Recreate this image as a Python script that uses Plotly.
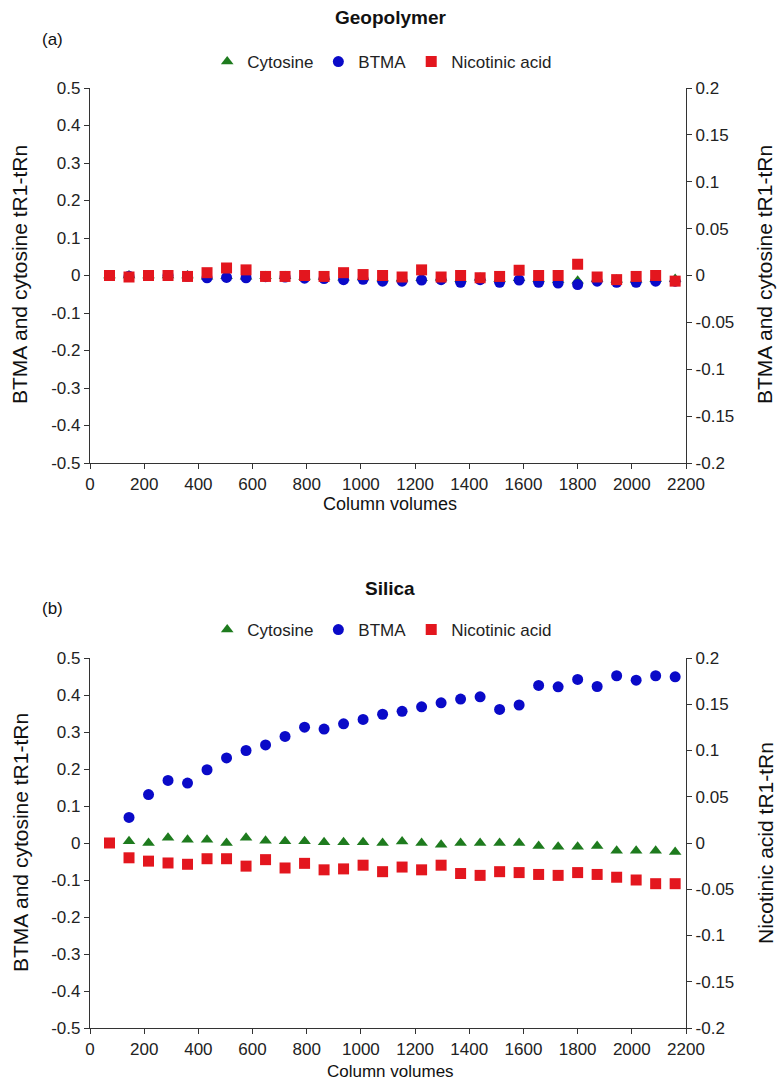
import plotly.graph_objects as go

# ---------------- data ----------------
column_volumes = [72, 144, 216, 288, 360, 432, 504, 576, 648, 720,
                  792, 864, 936, 1008, 1080, 1152, 1224, 1296, 1368, 1440,
                  1512, 1584, 1656, 1728, 1800, 1872, 1944, 2016, 2088, 2160]

# (a) Geopolymer
geo_cytosine = [0, 0, 0, 0, 0, -0.003, -0.002, -0.003, -0.002, -0.002,
                -0.004, -0.004, -0.006, -0.005, -0.008, -0.008, -0.007, -0.006, -0.010, -0.006,
                -0.010, -0.007, -0.010, -0.012, -0.014, -0.009, -0.011, -0.011, -0.009, -0.009]
geo_btma = [0, -0.002, 0, 0, -0.002, -0.006, -0.005, -0.006, -0.003, -0.004,
            -0.007, -0.008, -0.011, -0.010, -0.015, -0.015, -0.012, -0.011, -0.018, -0.011,
            -0.018, -0.012, -0.018, -0.020, -0.024, -0.015, -0.018, -0.018, -0.015, -0.015]
geo_nicotinic = [0, -0.0016, 0, 0, -0.001, 0.003, 0.008, 0.006, -0.001, -0.001,
                 0, -0.001, 0.003, 0.001, 0, -0.0016, 0.006, -0.0016, 0, -0.0024,
                 -0.001, 0.0056, 0, 0, 0.012, -0.0016, -0.0044, -0.001, 0, -0.006]

# (b) Silica
sil_cytosine = [None, 0.005, 0, 0.014, 0.009, 0.009, 0, 0.014, 0.006, 0.005,
                0.005, 0.002, 0.002, 0.002, 0, 0.004, 0, -0.005, 0, 0,
                0, 0, -0.008, -0.010, -0.010, -0.008, -0.021, -0.021, -0.021, -0.024]
sil_btma = [None, 0.069, 0.131, 0.169, 0.162, 0.198, 0.230, 0.250, 0.265, 0.288,
            0.313, 0.308, 0.322, 0.334, 0.348, 0.356, 0.368, 0.379, 0.389, 0.395,
            0.361, 0.373, 0.426, 0.422, 0.442, 0.423, 0.452, 0.440, 0.452, 0.449]
sil_nicotinic = [0, -0.016, -0.0196, -0.0216, -0.023, -0.017, -0.017, -0.025, -0.018, -0.027,
                 -0.022, -0.029, -0.028, -0.024, -0.031, -0.026, -0.029, -0.024, -0.033, -0.035,
                 -0.031, -0.032, -0.034, -0.035, -0.032, -0.034, -0.037, -0.040, -0.044, -0.044]

left_ticks = [0.5, 0.4, 0.3, 0.2, 0.1, 0, -0.1, -0.2, -0.3, -0.4, -0.5]
left_labels = ["0.5", "0.4", "0.3", "0.2", "0.1", "0", "-0.1", "-0.2", "-0.3", "-0.4", "-0.5"]
right_ticks = [0.2, 0.15, 0.1, 0.05, 0, -0.05, -0.1, -0.15, -0.2]
right_labels = ["0.2", "0.15", "0.1", "0.05", "0", "-0.05", "-0.1", "-0.15", "-0.2"]
x_ticks = list(range(0, 2201, 200))

series_names = ["Cytosine", "BTMA", "Nicotinic acid"]
GREEN, BLUE, RED = "#1E7B1E", "#0A0AC8", "#E3161E"

FONT = "Liberation Sans, Arial, sans-serif"
W, H = 780, 1084

fig = go.Figure()

def add_panel(cyt, btma, nic, xa, ya, ya2, legend):
    fig.add_trace(go.Scatter(x=column_volumes, y=cyt, mode="markers", name=series_names[0],
                             marker=dict(symbol="triangle-up", size=11, color=GREEN),
                             xaxis=xa, yaxis=ya, legend=legend))
    fig.add_trace(go.Scatter(x=column_volumes, y=btma, mode="markers", name=series_names[1],
                             marker=dict(symbol="circle", size=11, color=BLUE),
                             xaxis=xa, yaxis=ya, legend=legend))
    fig.add_trace(go.Scatter(x=column_volumes, y=nic, mode="markers", name=series_names[2],
                             marker=dict(symbol="square", size=11, color=RED),
                             xaxis=xa, yaxis=ya2, legend=legend))

add_panel(geo_cytosine, geo_btma, geo_nicotinic, "x", "y", "y2", "legend")
add_panel(sil_cytosine, sil_btma, sil_nicotinic, "x2", "y3", "y4", "legend2")

px = lambda v: v / W
py = lambda v: 1 - v / H

x_dom = [px(90), px(686)]
top_dom = [py(463), py(88)]
bot_dom = [py(1028), py(658)]

tickfont = dict(family=FONT, size=17, color="#222")
common_axis = dict(showline=True, linecolor="#333", linewidth=1.3, ticks="outside",
                   ticklen=5, tickcolor="#333", showgrid=False, zeroline=False,
                   tickfont=tickfont, automargin=False)

def xaxis(anchor):
    return dict(domain=x_dom, range=[0, 2200], tickvals=x_ticks, anchor=anchor, **common_axis)

def yleft(dom, anchor):
    return dict(domain=dom, range=[-0.5, 0.5], tickvals=left_ticks, ticktext=left_labels,
                anchor=anchor, side="left", **common_axis)

def yright(overlay, anchor):
    return dict(range=[-0.2, 0.2], tickvals=right_ticks, ticktext=right_labels,
                overlaying=overlay, anchor=anchor, side="right", **common_axis)

legend_common = dict(orientation="h", xanchor="center", yanchor="middle",
                     font=dict(family=FONT, size=17, color="#222"),
                     bgcolor="rgba(0,0,0,0)", itemwidth=30, tracegroupgap=0)

fig.update_layout(
    width=W, height=H,
    margin=dict(l=0, r=0, t=0, b=0),
    paper_bgcolor="white", plot_bgcolor="white",
    font=dict(family=FONT, size=17, color="#222"),
    xaxis=xaxis("y"),
    yaxis=yleft(top_dom, "x"),
    yaxis2=yright("y", "x"),
    xaxis2=xaxis("y3"),
    yaxis3=yleft(bot_dom, "x2"),
    yaxis4=yright("y3", "x2"),
    legend=dict(x=0.49, y=py(62), **legend_common),
    legend2=dict(x=0.49, y=py(630), **legend_common),
)

annots = [
    ("<b>Geopolymer</b>", 390, 18, 0, 19),
    ("(a)", 52, 40, 0, 17),
    ("Column volumes", 390, 504, 0, 18),
    ("BTMA and cytosine tR1-tRn", 20, 275, -90, 21),
    ("BTMA and cytosine tR1-tRn", 765, 275, -90, 21),
    ("<b>Silica</b>", 390, 588, 0, 19),
    ("(b)", 52, 608, 0, 17),
    ("Column volumes", 390, 1071, 0, 17),
    ("BTMA and cytosine tR1-tRn", 20, 843, -90, 21),
    ("Nicotinic acid tR1-tRn", 765, 843, -90, 21),
]
for text, x, y, ang, size in annots:
    fig.add_annotation(text=text, x=px(x), y=py(y), xref="paper", yref="paper",
                       showarrow=False, textangle=ang, xanchor="center", yanchor="middle",
                       font=dict(family=FONT, size=size, color="#111"))

fig.write_html("out.html")
